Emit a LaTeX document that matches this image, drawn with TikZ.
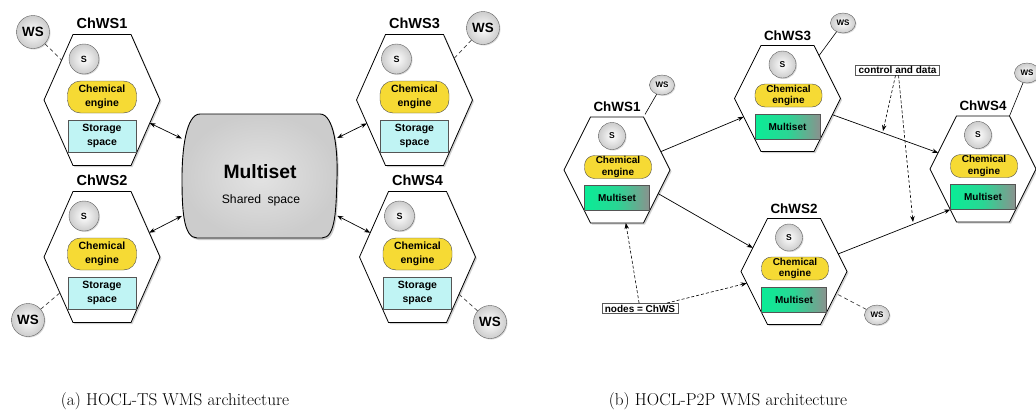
\documentclass[tikz,border=0pt]{standalone}
\usepackage{fontspec}
\newfontfamily\arial{Liberation Sans}
\usetikzlibrary{arrows.meta,calc,positioning,shapes.geometric,shadows}
\definecolor{engyellow}{RGB}{246,218,52}
\definecolor{storecyan}{RGB}{192,244,244}
\definecolor{msgreen}{RGB}{10,236,150}
\definecolor{msgray}{RGB}{138,146,142}
\definecolor{edgegray}{RGB}{85,85,85}
\tikzset{
  hexa/.style={regular polygon,regular polygon sides=6,draw=black,fill=white,
    inner sep=0pt,outer sep=0pt,line width=0.8pt,transform shape,
    drop shadow={shadow xshift=1.5pt,shadow yshift=-1.5pt,opacity=.35}},
  sball/.style={circle,draw=gray!75!black,inner sep=0pt,shading=radial,
    inner color=white,outer color=gray!40,
    drop shadow={shadow xshift=1pt,shadow yshift=-1pt,opacity=.3}},
  wsegg/.style={ellipse,draw=gray!75!black,inner sep=0pt,shading=radial,
    inner color=white,outer color=gray!40,minimum width=25pt,minimum height=20pt,
    font=\arial\bfseries\fontsize{8}{8}\selectfont,
    drop shadow={shadow xshift=1pt,shadow yshift=-1pt,opacity=.3}},
  title/.style={font=\arial\bfseries\fontsize{14.5}{14.5}\selectfont},
  titler/.style={font=\arial\bfseries\fontsize{13.4}{13.4}\selectfont},
  engine/.style={rectangle,rounded corners=13pt,draw=gray!60!black,fill=engyellow,
    minimum width=69pt,minimum height=32pt,inner sep=0pt,align=center,
    font=\arial\bfseries\fontsize{10.5}{13.5}\selectfont},
  enginer/.style={engine,rounded corners=10pt,minimum width=67pt,minimum height=23pt,
    font=\arial\bfseries\fontsize{10}{11.5}\selectfont},
  store/.style={rectangle,draw=edgegray,fill=storecyan,minimum width=68pt,
    minimum height=32pt,inner sep=0pt,align=center,
    font=\arial\bfseries\fontsize{10.5}{13.5}\selectfont},
  mset/.style={rectangle,draw=edgegray,left color=msgreen,right color=msgray,
    middle color=msgreen!75!msgray,minimum width=65pt,minimum height=25pt,
    inner sep=0pt,font=\arial\bfseries\fontsize{10}{10}\selectfont},
  note/.style={rectangle,draw=gray!70!black,line width=0.6pt,fill=white,
    inner xsep=3pt,inner ysep=1.5pt,font=\arial\bfseries\fontsize{10}{10}\selectfont},
  wsline/.style={gray!50!black,line width=0.7pt,dash pattern=on 4pt off 3pt},
  dlink/.style={<->,line width=0.7pt},
  link/.style={->,line width=0.7pt},
  hint/.style={->,line width=0.6pt,dash pattern=on 3pt off 2pt},
  caption/.style={anchor=base,font=\fontsize{17.2}{20}\selectfont}
}
\begin{document}
\begin{tikzpicture}[x=1pt,y=-1pt,>={Stealth[length=6pt,width=4.5pt]}]
  \useasboundingbox (0,0) rectangle (1036,418);
  \fill[white] (0,0) rectangle (1036,418);
  \clip (0,0) rectangle (1036,418);

  % (a) shared multiset in the middle
  \draw[line width=0.9pt,inner color=gray!22,outer color=gray!40,
    drop shadow={shadow xshift=1.5pt,shadow yshift=-2pt,opacity=.4}]
    (200,114) -- (320,114) .. controls (334,114) and (338,150) .. (337,178)
    .. controls (336,208) and (336,238) .. (322,238) -- (197,238)
    .. controls (183,238) and (182,208) .. (182,178)
    .. controls (182,150) and (186,114) .. (200,114) -- cycle;
  \node[minimum width=155pt,minimum height=124pt,inner sep=0pt] (ms) at (259.5,176) {};
  \node[font=\arial\bfseries\fontsize{19.3}{19.3}\selectfont] (mstitle) at (260,172) {Multiset};
  \node[font=\arial\fontsize{12.2}{12.2}\selectfont] (mssub) at (261,200) {Shared\hspace{3pt} space};

  % (a) the four ChWS
  \foreach \n/\x/\y in {1/102/100, 2/102/257, 3/414.5/100, 4/417.5/257}{
    \begin{scope}[shift={(\x,\y)},yscale=1.304]
      \node[hexa,minimum size=116pt] (h\n) {};
    \end{scope}
    \node[title] (t\n) at ($(h\n)+(0,-77)$) {ChWS\n};
    \node[sball,minimum size=30pt,font=\arial\bfseries\fontsize{9}{9}\selectfont]
      (s\n) at ($(h\n)+(-18,-41)$) {S};
    \node[engine] (e\n) at ($(h\n)+(0,-3)$) {Chemical\\engine};
    \node[store] (d\n) at ($(h\n)+(0,36)$) {Storage\\space};
  }
  \foreach \n/\x/\y in {1/33/32, 2/28/320, 3/483/28, 4/490/322}{
    \node[sball,minimum size=33pt,font=\arial\bfseries\fontsize{13.4}{13.4}\selectfont]
      (w\n) at (\x,\y) {WS};
    \draw[wsline] (w\n) -- (h\n);
  }
  \foreach \n in {1,...,4}
    \draw[dlink] (h\n) -- (ms);

  % (b) peer to peer ChWS
  \foreach \n/\x/\y in {1/617/170, 2/794/271.5, 3/787.5/98.5, 4/983/169}{
    \begin{scope}[shift={(\x,\y)},yscale=1.155]
      \node[hexa,minimum size=106pt] (r\n) {};
    \end{scope}
    \node[titler] (u\n) at ($(r\n)+(0,-63)$) {ChWS\n};
    \node[sball,minimum size=27pt,font=\arial\bfseries\fontsize{8.5}{8.5}\selectfont]
      (sr\n) at ($(r\n)+(-5,-34)$) {S};
    \node[enginer] (er\n) at ($(r\n)+(1,-3)$) {Chemical\\engine};
    \node[mset] (m\n) at ($(r\n)+(0,28)$) {Multiset};
  }
  \node[wsegg] (q1) at (662,85) {WS};
  \node[wsegg] (q2) at (877,315) {WS};
  \node[wsegg] (q3) at (843,23) {WS};
  \node[wsegg] (q4) at (1027,73) {WS};
  \draw[line width=0.6pt,shorten >=3pt] (q1) -- (r1.corner 1);
  \draw[line width=0.6pt] (q3) -- (r3);
  \draw[line width=0.6pt] (q4) -- (r4.corner 1);
  \draw[wsline] (q2) -- (r2);

  \draw[link] (r1) -- (r3);
  \draw[link] (r1) -- (r2);
  \draw[link] (r3) -- (r4);
  \draw[link] (r2.19) -- (r4.227);

  % notes
  \node[note] (cd) at (897.5,70) {control and data};
  \coordinate (p1) at (883,131);
  \coordinate (p2) at (913,222);
  \draw[hint] ([xshift=-2pt]cd.south) -- (p1);
  \draw[hint] ([xshift=1pt]cd.south) -- (p2);
  \node[note] (nc) at (640,308.5) {nodes = ChWS};
  \draw[hint] (nc) -- (r1);
  \draw[hint] ([xshift=27pt]nc.north) -- (r2);

  % captions
  \node[caption] (capa) at (175,405) {(a) HOCL-TS WMS architecture};
  \node[caption] (capb) at (728,405) {(b) HOCL-P2P WMS architecture};
\end{tikzpicture}
\end{document}
